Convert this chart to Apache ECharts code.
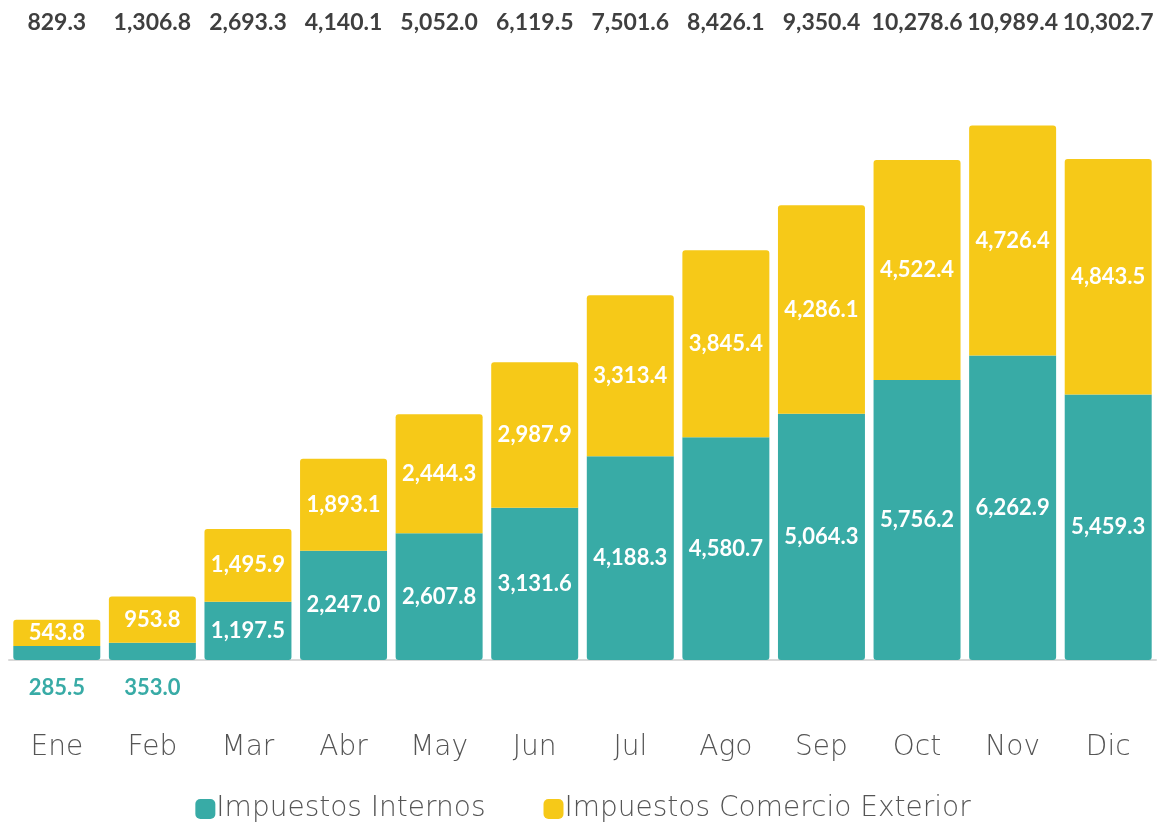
<!DOCTYPE html>
<html>
<head>
<meta charset="utf-8">
<script src="https://cdn.jsdelivr.net/npm/echarts@6/dist/echarts.min.js"></script>
<style>
html,body{margin:0;padding:0;background:#fff;}
#main{width:1166px;height:824px;}
</style>
</head>
<body>
<div id="main"></div>
<script>
var meses = ['Ene','Feb','Mar','Abr','May','Jun','Jul','Ago','Sep','Oct','Nov','Dic'];
var internos = [285.5,353.0,1197.5,2247.0,2607.8,3131.6,4188.3,4580.7,5064.3,5756.2,6262.9,5459.3];
var exterior = [543.8,953.8,1495.9,1893.1,2444.3,2987.9,3313.4,3845.4,4286.1,4522.4,4726.4,4843.5];
var totales = [829.3,1306.8,2693.3,4140.1,5052.0,6119.5,7501.6,8426.1,9350.4,10278.6,10989.4,10302.7];

var cTeal = '#38aba6';
var cYellow = '#f6c918';
var fmt = function (v) {
  return Number(v).toLocaleString('en-US', {minimumFractionDigits: 1, maximumFractionDigits: 1});
};

// los meses chicos llevan la etiqueta abajo, en verde
var internosData = internos.map(function (v) {
  if (v < 500) {
    return {
      value: v,
      label: {position: 'bottom', distance: 17, color: cTeal}
    };
  }
  return v;
});

var option = {
  animation: false,
  grid: {left: 9, right: 10, top: 125, bottom: 164},
  legend: {
    bottom: -4,
    left: 'center',
    itemWidth: 20,
    itemHeight: 20,
    itemGap: 58,
    icon: 'roundRect',
    textStyle: {fontFamily: 'DejaVu Sans', fontWeight: 200, fontSize: 28, color: '#555', padding: [0, 0, 0, -4]},
    data: ['Impuestos Internos', 'Impuestos Comercio Exterior']
  },
  xAxis: [
    {
      type: 'category',
      data: meses,
      axisLine: {lineStyle: {color: '#d9d9d9', width: 2}},
      axisTick: {show: false},
      axisLabel: {margin: 74, fontFamily: 'DejaVu Sans', fontWeight: 200, fontSize: 28, color: '#555'}
    },
    {
      type: 'category',
      position: 'top',
      data: totales.map(fmt),
      axisLine: {show: false},
      axisTick: {show: false},
      axisLabel: {interval: 0, hideOverlap: false, margin: 91, fontFamily: 'Lato', fontWeight: 'bold', fontSize: 23, color: '#3f3f3f'}
    }
  ],
  yAxis: {
    type: 'value',
    min: 0,
    max: 11000,
    show: false,
    splitLine: {show: false}
  },
  series: [
    {
      name: 'Impuestos Internos',
      type: 'bar',
      stack: 'total',
      barCategoryGap: '9%',
      data: internosData,
      itemStyle: {color: cTeal, borderRadius: [0, 0, 3, 3]},
      label: {
        show: true,
        position: 'inside',
        formatter: function (p) { return fmt(p.value); },
        fontFamily: 'Lato',
        fontWeight: 'bold',
        fontSize: 22,
        color: '#fff'
      }
    },
    {
      name: 'Impuestos Comercio Exterior',
      type: 'bar',
      stack: 'total',
      data: exterior,
      itemStyle: {color: cYellow, borderRadius: [3, 3, 0, 0]},
      label: {
        show: true,
        position: 'inside',
        formatter: function (p) { return fmt(p.value); },
        fontFamily: 'Lato',
        fontWeight: 'bold',
        fontSize: 22,
        color: '#fff'
      }
    }
  ]
};

var myChart = echarts.init(document.getElementById('main'));
myChart.setOption(option);
</script>
</body>
</html>
